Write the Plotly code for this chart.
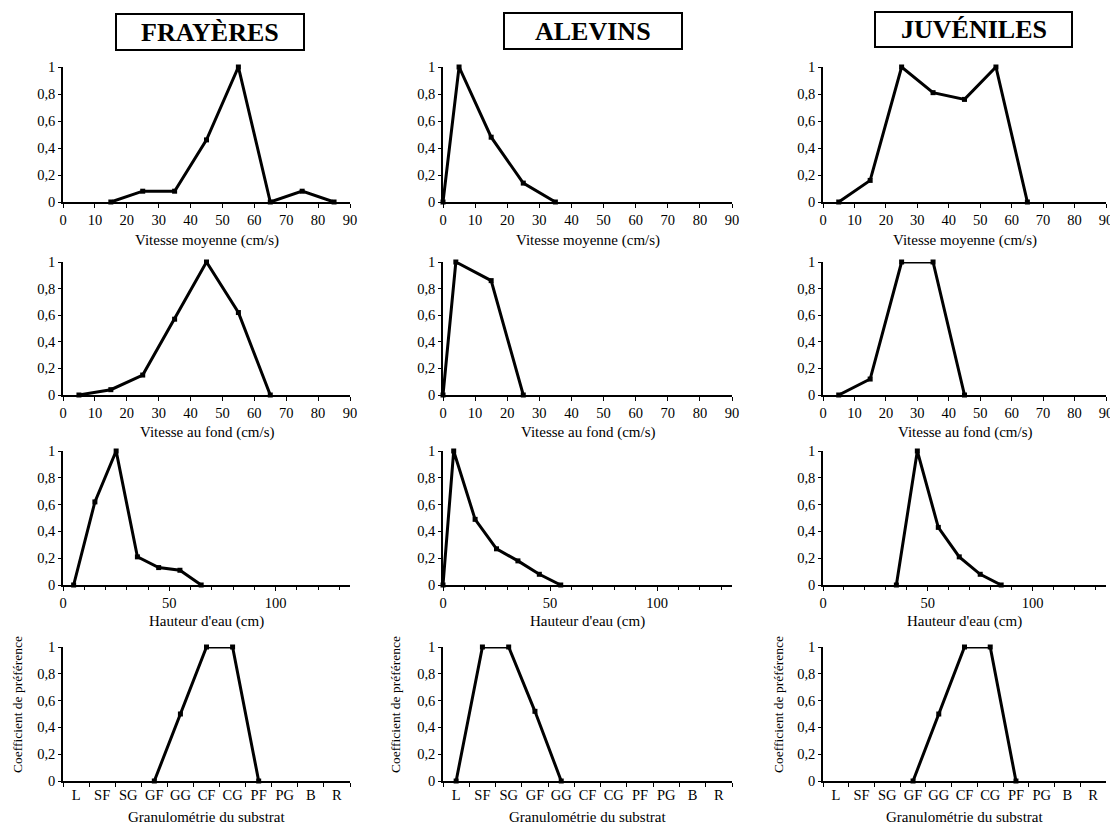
import plotly.graph_objects as go

# ---------------- data ----------------
titles = ["FRAYÈRES", "ALEVINS", "JUVÉNILES"]
row_titles = ["Vitesse moyenne (cm/s)", "Vitesse au fond (cm/s)", "Hauteur d'eau (cm)", "Granulométrie du substrat"]
substrat_cats = ["L", "SF", "SG", "GF", "GG", "CF", "CG", "PF", "PG", "B", "R"]

vm_fr_x = [15, 25, 35, 45, 55, 65, 75, 85]
vm_fr_y = [0, 0.08, 0.08, 0.46, 1, 0, 0.08, 0]
vm_al_x = [0, 5, 15, 25, 35]
vm_al_y = [0, 1, 0.48, 0.14, 0]
vm_ju_x = [5, 15, 25, 35, 45, 55, 65]
vm_ju_y = [0, 0.16, 1, 0.81, 0.76, 1, 0]

vf_fr_x = [5, 15, 25, 35, 45, 55, 65]
vf_fr_y = [0, 0.04, 0.15, 0.57, 1, 0.62, 0]
vf_al_x = [0, 4, 15, 25]
vf_al_y = [0, 1, 0.86, 0]
vf_ju_x = [5, 15, 25, 35, 45]
vf_ju_y = [0, 0.12, 1, 1, 0]

h_fr_x = [5, 15, 25, 35, 45, 55, 65]
h_fr_y = [0, 0.62, 1, 0.21, 0.13, 0.11, 0]
h_al_x = [0, 5, 15, 25, 35, 45, 55]
h_al_y = [0, 1, 0.49, 0.27, 0.18, 0.08, 0]
h_ju_x = [35, 45, 55, 65, 75, 85]
h_ju_y = [0, 1, 0.43, 0.21, 0.08, 0]

s_fr_x = ["GF", "GG", "CF", "CG", "PF"]
s_fr_y = [0, 0.5, 1, 1, 0]
s_al_x = ["L", "SF", "SG", "GF", "GG"]
s_al_y = [0, 1, 1, 0.52, 0]
s_ju_x = ["GF", "GG", "CF", "CG", "PF"]
s_ju_y = [0, 0.5, 1, 1, 0]

series = [
    [(vm_fr_x, vm_fr_y), (vm_al_x, vm_al_y), (vm_ju_x, vm_ju_y)],
    [(vf_fr_x, vf_fr_y), (vf_al_x, vf_al_y), (vf_ju_x, vf_ju_y)],
    [(h_fr_x, h_fr_y), (h_al_x, h_al_y), (h_ju_x, h_ju_y)],
    [(s_fr_x, s_fr_y), (s_al_x, s_al_y), (s_ju_x, s_ju_y)],
]

# ---------------- layout geometry (pixels, in screenshot coordinates) ----------------
PAGE_MARGIN = 8  # default body margin of the html page
W, H = 1118 - PAGE_MARGIN, 824 - PAGE_MARGIN
cols_px = [(63, 350), (443, 732), (823, 1106)]
rows_px = [(67, 202), (262, 395), (451, 585), (647, 781)]
title_boxes = [(116, 304, 14, 50), (504, 682, 13, 49), (875, 1072, 12, 47)]
xtitle_y = [240, 432, 621, 817]
ytitle_x = [17, 395, 778]

FONT = "Liberation Serif"
TICKSIZE = 14.5

def px(x):
    return (x - PAGE_MARGIN) / W

def py(y):
    return 1 - (y - PAGE_MARGIN) / H

fig = go.Figure()
layout_axes = {}
annotations = []
shapes = []

for r in range(4):
    for c in range(3):
        n = r * 3 + c + 1
        sfx = "" if n == 1 else str(n)
        xs, ys = series[r][c]
        fig.add_trace(go.Scatter(
            x=xs, y=ys, mode="lines+markers",
            line=dict(color="black", width=3),
            marker=dict(color="black", size=5, symbol="square"),
            xaxis="x" + sfx, yaxis="y" + sfx,
            showlegend=False, cliponaxis=False,
        ))
        x0, x1 = cols_px[c]
        y0, y1 = rows_px[r]
        xa = dict(
            domain=[px(x0), px(x1)], anchor="y" + sfx, automargin=False,
            showline=True, linecolor="black", linewidth=1.5,
            showgrid=False, zeroline=False,
            ticks="outside", ticklen=4, tickcolor="black", tickwidth=1,
            tickangle=0, ticklabeloverflow="allow",
            tickfont=dict(family=FONT, size=TICKSIZE, color="black"),
        )
        if r in (0, 1):
            xa.update(range=[0, 90], tickmode="linear", tick0=0, dtick=10)
        elif r == 2:
            xa.update(range=[0, 135], tickmode="linear", tick0=0, dtick=50,
                      minor=dict(dtick=10, ticks="outside", ticklen=3, tickcolor="black"))
        else:
            xa.update(type="category", categoryorder="array", categoryarray=substrat_cats,
                      range=[-0.5, 10.5], tickson="boundaries",
                      tickvals=substrat_cats, ticktext=substrat_cats)
        ya = dict(
            domain=[py(y1), py(y0)], anchor="x" + sfx, automargin=False,
            range=[0, 1], tickmode="linear", tick0=0, dtick=0.2,
            showline=True, linecolor="black", linewidth=1.5,
            showgrid=False, zeroline=False,
            ticks="outside", ticklen=3, tickcolor="black",
            tickfont=dict(family=FONT, size=TICKSIZE, color="black"),
        )
        layout_axes["xaxis" + sfx] = xa
        layout_axes["yaxis" + sfx] = ya

        annotations.append(dict(
            text=row_titles[r], x=px((x0 + x1) / 2), y=py(xtitle_y[r]),
            xref="paper", yref="paper", xanchor="center", yanchor="middle",
            showarrow=False, font=dict(family=FONT, size=15, color="black"),
        ))
        if r == 3:
            annotations.append(dict(
                text="Coefficient de préférence", x=px(ytitle_x[c]), y=py(705),
                xref="paper", yref="paper", xanchor="center", yanchor="middle",
                textangle=-90, showarrow=False,
                font=dict(family=FONT, size=13.5, color="black"),
            ))

for i, (bx0, bx1, by0, by1) in enumerate(title_boxes):
    shapes.append(dict(type="rect", xref="paper", yref="paper",
                       x0=px(bx0), x1=px(bx1), y0=py(by1), y1=py(by0),
                       line=dict(color="black", width=2), fillcolor="white", layer="below"))
    annotations.append(dict(
        text="<b>" + titles[i] + "</b>", x=px((bx0 + bx1) / 2), y=py((by0 + by1) / 2),
        xref="paper", yref="paper", xanchor="center", yanchor="middle",
        showarrow=False, font=dict(family=FONT, size=26, color="black"),
    ))

fig.update_layout(
    template="none",
    width=W, height=H, margin=dict(l=0, r=0, t=0, b=0, autoexpand=False),
    paper_bgcolor="white", plot_bgcolor="white",
    font=dict(family=FONT, color="black"),
    separators=", ",
    annotations=annotations, shapes=shapes,
    **layout_axes,
)

fig.write_html("out.html")
